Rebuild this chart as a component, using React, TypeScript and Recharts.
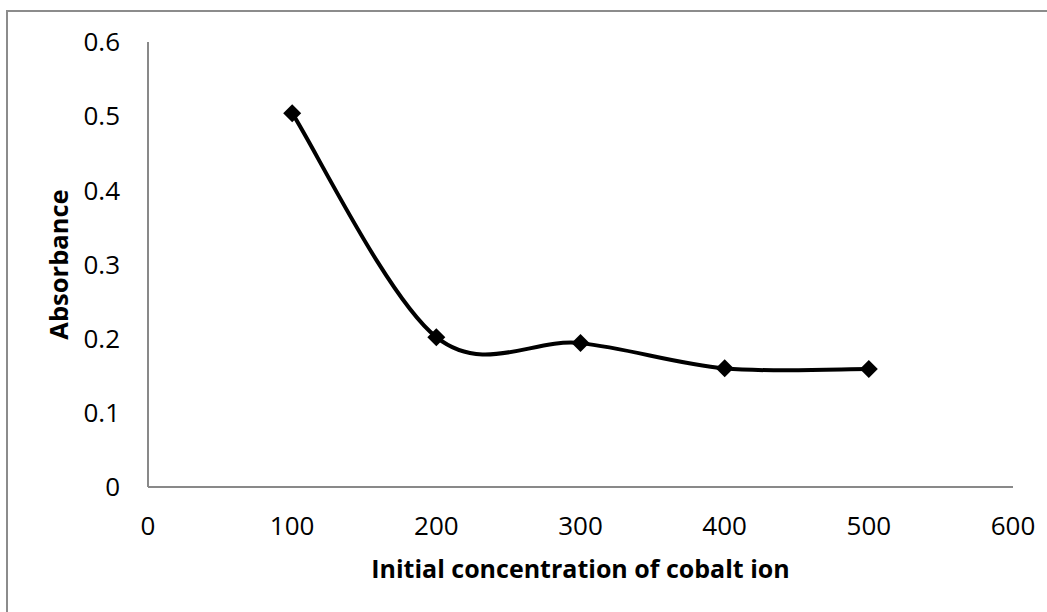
import { LineChart, Line, XAxis, YAxis, Label } from 'recharts'

const concentrations = [100, 200, 300, 400, 500]
const absorbance = [0.504, 0.202, 0.194, 0.16, 0.159]
const xTicks = [0, 100, 200, 300, 400, 500, 600]
const yTicks = [0, 0.1, 0.2, 0.3, 0.4, 0.5, 0.6]

const data = concentrations.map((c, i) => ({ c, a: absorbance[i] }))

const FONT = '"Open Sans", sans-serif'
const AXIS = '#898989'

// Excel style smoothed line (uniform Catmull-Rom through every point)
const excelSmooth = (context: any) => {
    let pts: [number, number][] = []
    return {
        areaStart() {},
        areaEnd() {},
        lineStart() {
            pts = []
        },
        point(x: number, y: number) {
            pts.push([+x, +y])
        },
        lineEnd() {
            if (!pts.length) return
            context.moveTo(pts[0][0], pts[0][1])
            for (let i = 0; i < pts.length - 1; i++) {
                const p0 = pts[i - 1] || pts[i]
                const p1 = pts[i]
                const p2 = pts[i + 1]
                const p3 = pts[i + 2] || pts[i + 1]
                context.bezierCurveTo(
                    p1[0] + (p2[0] - p0[0]) / 6,
                    p1[1] + (p2[1] - p0[1]) / 6,
                    p2[0] - (p3[0] - p1[0]) / 6,
                    p2[1] - (p3[1] - p1[1]) / 6,
                    p2[0],
                    p2[1]
                )
            }
        },
    }
}

const Diamond = (props: any) => {
    const { cx, cy } = props
    if (cx == null || cy == null) return null
    const r = 9
    return (
        <polygon
            points={`${cx},${cy - r} ${cx + r},${cy} ${cx},${cy + r} ${cx - r},${cy}`}
            fill="#000"
        />
    )
}

const YTitle = (props: any) => {
    const vb = props.viewBox
    const x = vb.x + 68
    const y = vb.y + vb.height / 2
    return (
        <text
            x={x}
            y={y}
            transform={`rotate(-90, ${x}, ${y})`}
            textAnchor="middle"
            fontFamily={FONT}
            fontWeight="bold"
            fontSize={25.5}
            fill="#000"
        >
            Absorbance
        </text>
    )
}

const App = () => {
    return (
        <div
            style={{
                position: 'fixed',
                left: 0,
                top: 0,
                width: 1047,
                height: 612,
                overflow: 'hidden',
                background: '#fff',
            }}
        >
            <div
                style={{
                    position: 'absolute',
                    left: 6,
                    top: 10,
                    width: 1100,
                    height: 700,
                    border: '2px solid #8c8c8c',
                }}
            />
            <div style={{ position: 'absolute', left: 0, top: 0 }}>
                <LineChart
                    width={1047}
                    height={612}
                    data={data}
                    margin={{ top: 42, right: 34, left: 0, bottom: 0 }}
                >
                    <XAxis
                        dataKey="c"
                        type="number"
                        domain={[0, 600]}
                        ticks={xTicks}
                        height={125}
                        axisLine={{ stroke: AXIS, strokeWidth: 2 }}
                        tickLine={false}
                        tickSize={0}
                        tickMargin={30}
                        tick={{ fill: '#000', fontSize: 26, fontFamily: FONT }}
                    >
                        <Label
                            value="Initial concentration of cobalt ion"
                            position="insideBottom"
                            offset={34}
                            style={{
                                fill: '#000',
                                fontSize: 25,
                                fontWeight: 'bold',
                                fontFamily: FONT,
                            }}
                        />
                    </XAxis>
                    <YAxis
                        type="number"
                        domain={[0, 0.6]}
                        ticks={yTicks}
                        width={148}
                        axisLine={{ stroke: AXIS, strokeWidth: 2 }}
                        tickLine={false}
                        tickSize={0}
                        tickMargin={28}
                        tick={{ fill: '#000', fontSize: 26, fontFamily: FONT }}
                    >
                        <Label content={YTitle} />
                    </YAxis>
                    <Line
                        dataKey="a"
                        type={excelSmooth as any}
                        stroke="#000"
                        strokeWidth={4}
                        dot={<Diamond />}
                        activeDot={false}
                        isAnimationActive={false}
                    />
                </LineChart>
            </div>
        </div>
    )
}

export default App
